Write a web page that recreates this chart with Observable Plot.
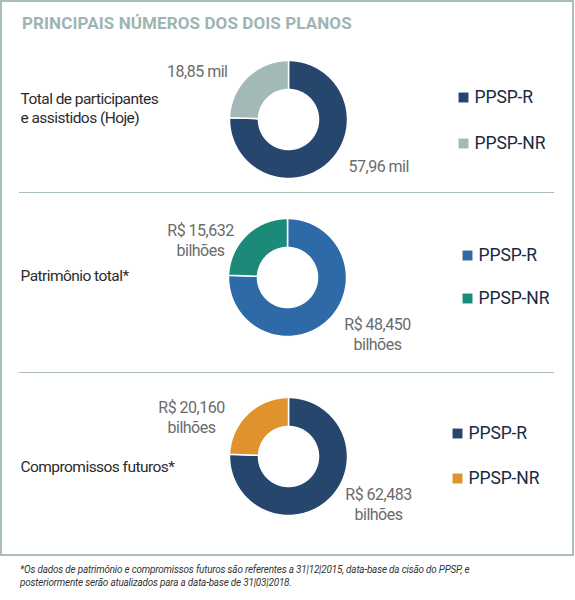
<!DOCTYPE html>
<html><head><meta charset="utf-8">
<script src="https://cdn.jsdelivr.net/npm/d3@7"></script>
<script src="https://cdn.jsdelivr.net/npm/@observablehq/plot@0.6"></script>
<style>
body{margin:0;background:#fff;font-family:Roboto,"Liberation Sans",sans-serif;}
#wrap{position:relative;width:575px;height:600px;overflow:hidden;}
#box{position:absolute;left:0;top:0;width:570px;height:552px;border:2px solid #a9bdbb;}
#title{position:absolute;left:22px;top:13px;font-weight:700;font-size:17px;color:#9db5b2;letter-spacing:0.1px;white-space:nowrap;}
.sep{position:absolute;left:19px;width:535px;height:1px;background:#a9bdbb;}
.sec{position:absolute;left:0;}
#foot{position:absolute;left:20px;top:563px;font-style:italic;font-size:11.5px;line-height:13px;color:#333;letter-spacing:-0.2px;white-space:nowrap;transform:scaleX(0.86);transform-origin:left top;}
.vlab text{letter-spacing:-0.5px;}
.stitle text{letter-spacing:-0.55px;}
.leg text{letter-spacing:-0.1px;}
</style></head><body>
<div id="wrap">
  <div id="box"></div>
  <div id="title">PRINCIPAIS NÚMEROS DOS DOIS PLANOS</div>
  <div class="sep" style="top:192px"></div>
  <div class="sep" style="top:372px"></div>
  <div id="foot">*Os dados de patrimônio e compromissos futuros são referentes a 31|12|2015, data-base da cisão do PPSP, e<br>posteriormente serão atualizados para a data-base de 31|03|2018.</div>
</div>
<script>
// ---- data ----
const series = ["PPSP-R", "PPSP-NR"];
const sectionTitles = [
  "Total de participantes\ne assistidos (Hoje)",
  "Patrimônio total*",
  "Compromissos futuros*"
];
const participantes = [57.96, 18.85];
const patrimonio = [48.450, 15.632];
const compromissos = [62.483, 20.160];
const participantesLabels = ["57,96 mil", "18,85 mil"];
const patrimonioLabels = ["R$ 48,450\nbilhões", "R$ 15,632\nbilhões"];
const compromissosLabels = ["R$ 62,483\nbilhões", "R$ 20,160\nbilhões"];

// ---- styles / layout ----
const palettes = [
  ["#26466e", "#a3b9b7"],
  ["#2d6aa7", "#1c8a79"],
  ["#26466e", "#e0922d"]
];
const layouts = [
  {top: 45, height: 147, cx: 288, cy: 74,
   label: [{dx: 60, dy: 46, anchor: "start"}, {dx: -61, dy: -49, anchor: "end"}],
   titleY: -12, legend: {x: 463, y: [-22, 24]}},
  {top: 193, height: 179, cx: 287, cy: 84,
   label: [{dx: 90, dy: 56, anchor: "middle"}, {dx: -87, dy: -38, anchor: "middle"}],
   titleY: -2, legend: {x: 467, y: [-22, 21]}},
  {top: 373, height: 182, cx: 288, cy: 83,
   label: [{dx: 90, dy: 47, anchor: "middle"}, {dx: -97, dy: -40, anchor: "middle"}],
   titleY: 10, legend: {x: 457, y: [-23, 22]}}
];
const R = 59, r = 30;

function slices(values) {
  const total = d3.sum(values);
  const pts = [];
  let a0 = 0;
  values.forEach((v, i) => {
    const a1 = a0 + v / total * 2 * Math.PI;
    const n = Math.max(2, Math.ceil((a1 - a0) / (Math.PI / 180)));
    for (let k = 0; k <= n; k++) {
      const a = a0 + (a1 - a0) * k / n;
      pts.push({s: series[i], x: R * Math.sin(a), y: -R * Math.cos(a)});
    }
    for (let k = n; k >= 0; k--) {
      const a = a0 + (a1 - a0) * k / n;
      pts.push({s: series[i], x: r * Math.sin(a), y: -r * Math.cos(a)});
    }
    a0 = a1;
  });
  return pts;
}

function section(values, labels, title, palette, L) {
  const W = 575;
  const labelData = values.map((v, i) => ({text: labels[i], ...L.label[i]}));
  const vopts = {x: d => d.dx, y: d => d.dy, text: "text", fontSize: 16, lineHeight: 1.25, fill: "#6b6b6b", className: "vlab"};
  const plot = Plot.plot({
    width: W, height: L.height, margin: 0,
    x: {domain: [-L.cx, W - L.cx], range: [0, W], axis: null},
    y: {domain: [-L.cy, L.height - L.cy], range: [0, L.height], axis: null},
    color: {domain: series, range: palette},
    style: {fontFamily: "Roboto, sans-serif", background: "transparent"},
    marks: [
      Plot.line(slices(values), {x: "x", y: "y", z: "s", fill: "s", stroke: "white", strokeWidth: 1.5, curve: "linear-closed"}),
      Plot.text(labelData.filter(d => d.anchor === "start"), {...vopts, textAnchor: "start"}),
      Plot.text(labelData.filter(d => d.anchor === "end"), {...vopts, textAnchor: "end"}),
      Plot.text(labelData.filter(d => d.anchor === "middle"), {...vopts, textAnchor: "middle"}),
      Plot.text([title], {x: 20 - L.cx, y: L.titleY, text: d => d, textAnchor: "start", fontSize: 15.5, lineHeight: 1.2, fill: "#2b2b2b", className: "stitle"}),
      Plot.dot(series, {x: L.legend.x - L.cx, y: (d, i) => L.legend.y[i], fill: d => d, symbol: "square", r: 5.6}),
      Plot.text(series, {x: L.legend.x - L.cx + 11, y: (d, i) => L.legend.y[i], text: d => d, textAnchor: "start", fontSize: 17.5, fill: "#182a42", className: "leg"})
    ]
  });
  const div = document.createElement("div");
  div.className = "sec";
  div.style.top = L.top + "px";
  div.appendChild(plot);
  document.getElementById("wrap").appendChild(div);
}

section(participantes, participantesLabels, sectionTitles[0], palettes[0], layouts[0]);
section(patrimonio, patrimonioLabels, sectionTitles[1], palettes[1], layouts[1]);
section(compromissos, compromissosLabels, sectionTitles[2], palettes[2], layouts[2]);
</script>
</body></html>
